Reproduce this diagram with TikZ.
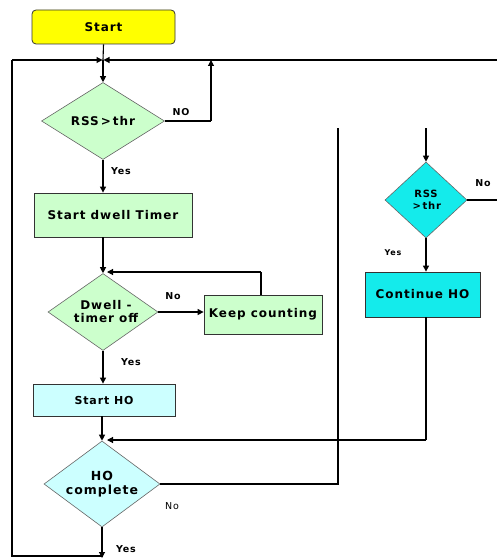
\documentclass[tikz,border=0pt]{standalone}
\usepackage{fontspec}
\setmainfont{DejaVu Sans}
\newfontfamily\lsf[LetterSpace=8]{DejaVu Sans}
\usetikzlibrary{shapes.geometric,arrows.meta}
\definecolor{ylw}{RGB}{255,255,0}
\definecolor{lgreen}{RGB}{204,255,204}
\definecolor{lcyan}{RGB}{204,255,255}
\definecolor{cyn}{RGB}{20,235,235}
\tikzset{
  box/.style={draw=black!80, line width=0.8pt, inner sep=0pt, font=\lsf\bfseries\fontsize{12}{14}\selectfont},
  dia/.style={diamond, draw=black!60, line width=0.6pt, inner sep=0pt, aspect=1.6, font=\lsf\bfseries\fontsize{12}{13}\selectfont, align=center},
  ln/.style={line width=1.1pt, black},
  arr/.style={ln, -{Triangle[length=6pt,width=6pt]}},
  lbl/.style={font=\lsf\bfseries\fontsize{9.5}{10}\selectfont, inner sep=0pt}
}
\begin{document}
\begin{tikzpicture}[x=1pt,y=-1pt]
\useasboundingbox (0,0) rectangle (497,559);
% nodes
\node[box, fill=ylw, rounded corners=4pt, minimum width=143pt, minimum height=34pt] (start) at (103.5,27) {Start};
\node[dia, fill=lgreen, minimum width=123pt, minimum height=77pt] (d1) at (103,121) {RSS{\fontspec{DejaVu Sans}\bfseries\,>\,}thr};
\node[box, fill=lgreen, minimum width=158pt, minimum height=44pt] (dwell) at (113,215) {Start dwell Timer};
\node[dia, fill=lgreen, minimum width=110pt, minimum height=77pt] (d2) at (103,312) {\hspace*{6pt}Dwell -\\\hspace*{6pt}timer off};
\node[box, fill=lgreen, minimum width=118pt, minimum height=39pt] (keep) at (263,314.5) {Keep counting};
\node[box, fill=lcyan, minimum width=142pt, minimum height=32pt, font=\lsf\bfseries\fontsize{11}{13}\selectfont] (sho) at (104,400) {Start HO};
\node[dia, fill=lcyan, minimum width=116pt, minimum height=86pt, font=\lsf\bfseries\fontsize{12.5}{14}\selectfont] (d3) at (102,484) {HO\\complete};
\node[dia, fill=cyn, minimum width=82pt, minimum height=76pt, font=\lsf\bfseries\fontsize{10}{12}\selectfont] (d4) at (426,200) {RSS\\\,{\fontspec{DejaVu Sans}\bfseries >\,}thr};
\node[box, fill=cyn, minimum width=115pt, minimum height=45pt] (cho) at (422.5,294.5) {Continue HO};
% coordinates
\coordinate (tl) at (12,60);
\coordinate (tj) at (103,60);
\coordinate (tr) at (497,60);
\coordinate (bl) at (12,556);
\coordinate (bj) at (103,556);
\coordinate (n1) at (211,121);
\coordinate (n1u) at (211,60);
\coordinate (h3) at (338,484);
\coordinate (h3u) at (338,128);
\coordinate (r4) at (426,128);
\coordinate (r4r) at (497,200);
\coordinate (kc) at (261,272);
\coordinate (k2) at (103,272);
\coordinate (c1) at (426,440);
\coordinate (c2) at (103,440);
% connectors
\draw[ln] (start.south) -- (tj);
\draw[arr] (tl) -- ([xshift=-0.5pt]tj);
\draw[arr] (tr) -- ([xshift=0.5pt]tj);
\draw[arr] (tj) -- (d1.north);
\draw[ln] (d1.east) -- (n1);
\draw[arr] (n1) -- (n1u);
\node[lbl] at (181,112) {NO};
\draw[arr] (d1.south) -- (d1.south |- dwell.north);
\node[lbl] at (121,171) {Yes};
\draw[arr] (d2.north |- dwell.south) -- (d2.north);
\draw[arr] (d2.east) -- (d2.east -| keep.west);
\node[lbl] at (173,296) {No};
\draw[ln] (keep.north -| kc) -- (kc);
\draw[arr] (kc) -- ([xshift=4pt]k2);
\node[lbl] at (131,362) {Yes};
\draw[arr] (d2.south) -- (d2.south |- sho.north);
\draw[arr] (d3.north |- sho.south) -- (d3.north);
\draw[ln] (d3.east) -- (h3) -- (h3u);
\node[font=\lsf\fontsize{9.5}{10}\selectfont, inner sep=0pt] at (172,506) {No};
\draw[arr] (d3.south) -- ([yshift=-2pt]d3.south |- bj);
\draw[ln] (bj) -- (bl) -- (tl);
\node[lbl] at (126,549) {Yes};
\draw[arr] (r4) -- (d4.north);
\draw[ln] (d4.east) -- (r4r);
\node[lbl] at (483,183) {No};
\draw[arr] (d4.south) -- (d4.south |- cho.north);
\node[lbl, font=\lsf\bfseries\fontsize{8}{9}\selectfont] at (393,253) {Yes};
\draw[ln] (cho.south -| c1) -- (c1);
\draw[arr] (c1) -- ([xshift=4pt]c2);
\end{tikzpicture}
\end{document}
